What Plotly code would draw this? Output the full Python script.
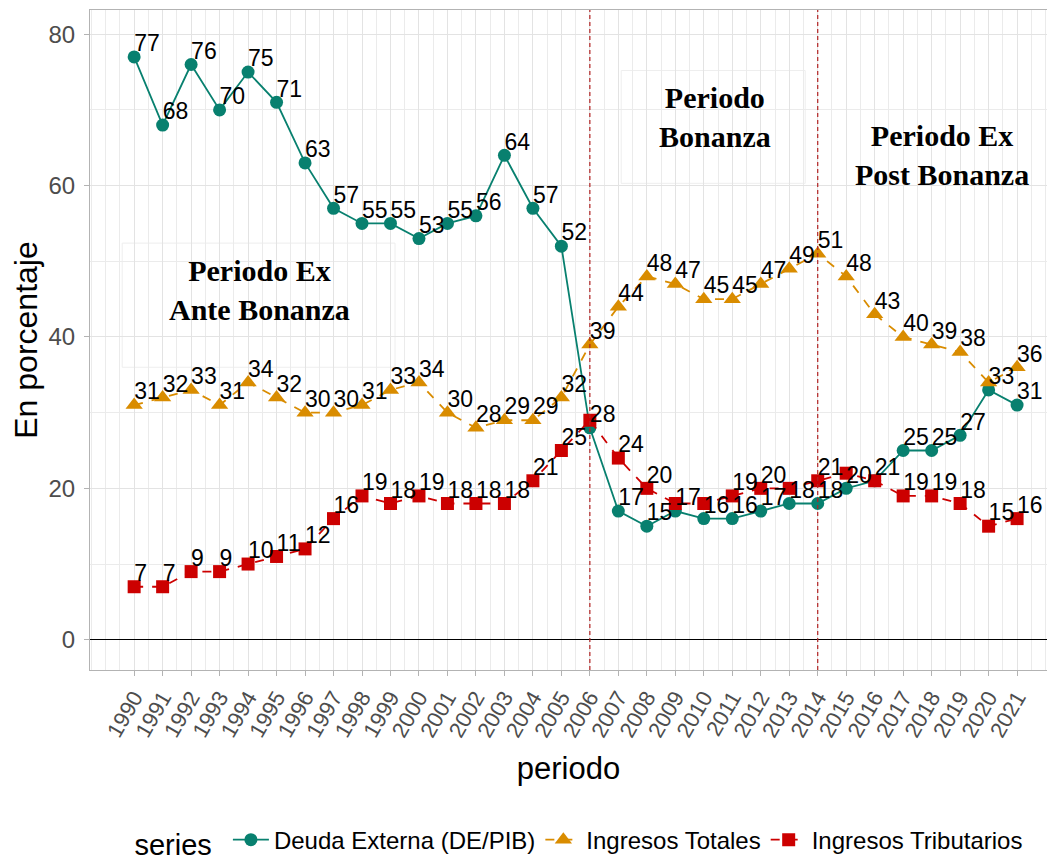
import numpy as np
import plotly.graph_objects as go

years = list(range(1990, 2022))
deuda_externa = [77, 68, 76, 70, 75, 71, 63, 57, 55, 55, 53, 55, 56, 64, 57, 52,
                 28, 17, 15, 17, 16, 16, 17, 18, 18, 20, 21, 25, 25, 27, 33, 31]
ingresos_totales = [31, 32, 33, 31, 34, 32, 30, 30, 31, 33, 34, 30, 28, 29, 29, 32,
                    39, 44, 48, 47, 45, 45, 47, 49, 51, 48, 43, 40, 39, 38, 34, 36]
ingresos_tributarios = [7, 7, 9, 9, 10, 11, 12, 16, 19, 18, 19, 18, 18, 18, 21, 25,
                        29, 24, 20, 18, 18, 19, 20, 20, 21, 22, 21, 19, 19, 18, 15, 16]

# labels hidden in the original because they overlapped (check_overlap)
hidden_deuda = []
hidden_totales = [2020]
hidden_tributarios = [2006, 2009, 2010, 2013, 2015, 2016]

period_breaks = [2006, 2014]

series_names = ["Deuda Externa (DE/PIB)", "Ingresos Totales", "Ingresos Tributarios"]
colors = ["#08806F", "#D98C00", "#CC0000"]
symbols = ["circle", "triangle-up", "square"]
dashes = ["solid", "dash", "dash"]
marker_sizes = [13, 15, 13]


def labels(vals, hidden):
    return ["" if y in hidden else f"{v:g}" for y, v in zip(years, vals)]


fig = go.Figure()
all_vals = [deuda_externa, ingresos_totales, ingresos_tributarios]
all_hidden = [hidden_deuda, hidden_totales, hidden_tributarios]
for name, vals, col, sym, dash, ms in zip(series_names, all_vals, colors, symbols,
                                          dashes, marker_sizes):
    fig.add_trace(go.Scatter(
        x=years, y=vals, name=name,
        mode="lines+markers",
        line=dict(color=col, width=1.8, dash=dash),
        marker=dict(color=col, symbol=sym, size=ms),
        cliponaxis=False,
    ))
for vals, hid in zip(all_vals, all_hidden):
    fig.add_trace(go.Scatter(
        x=years, y=vals, mode="text", showlegend=False, hoverinfo="skip",
        text=labels(vals, hid), textposition="top right",
        textfont=dict(family="Arial, Liberation Sans", size=23, color="black"),
        cliponaxis=False,
    ))

for xb in period_breaks:
    fig.add_vline(x=xb, line=dict(color="#B22222", width=1.2, dash="4px,3px"))

# label boxes
fig.add_shape(type="rect", x0=1989.58, x1=1999.16, y0=36.0, y1=52.4,
              line=dict(color="#EEEEEE", width=1), fillcolor="rgba(255,255,255,0.6)",
              layer="below")
fig.add_shape(type="rect", x0=2007.1, x1=2013.56, y0=60.3, y1=75.2,
              line=dict(color="#EEEEEE", width=1), fillcolor="rgba(255,255,255,0.6)",
              layer="below")

ann_font = dict(family="Liberation Serif, Times New Roman", size=30, color="black")
fig.add_annotation(x=1994.39, y=46.2, text="<b>Periodo Ex<br>Ante Bonanza</b>",
                   showarrow=False, font=ann_font)
fig.add_annotation(x=2010.4, y=69.0, text="<b>Periodo<br>Bonanza</b>",
                   showarrow=False, font=ann_font)
fig.add_annotation(x=2018.37, y=64.0, text="<b>Periodo Ex<br>Post Bonanza</b>",
                   showarrow=False, font=ann_font)

minor_x = list(np.arange(1988.5, 2022.5, 0.5))

fig.update_layout(
    width=1047, height=851,
    margin=dict(l=82, r=8, t=2, b=189, autoexpand=False),
    paper_bgcolor="white", plot_bgcolor="white",
    font=dict(family="Arial, Liberation Sans", color="black"),
    showlegend=True,
    legend=dict(orientation="h", x=0.512, xanchor="center", y=-0.26, yanchor="middle",
                title=dict(text="series ", font=dict(size=29)),
                font=dict(size=24), itemwidth=36),
    xaxis=dict(
        range=[1988.45, 2022.05], automargin=False,
        tickmode="array", tickvals=years, ticktext=[str(y) for y in years],
        tickangle=-60, tickfont=dict(size=22, color="#4D4D4D"),
        ticks="outside", ticklen=5, tickcolor="#B3B3B3",
        showgrid=True, gridcolor="#E3E3E3", gridwidth=1,
        minor=dict(tickvals=minor_x, showgrid=True, gridcolor="#EBEBEB", gridwidth=1),
        showline=True, linecolor="#B3B3B3", linewidth=1, mirror=True,
        zeroline=False,
        title=dict(text="periodo", font=dict(size=31), standoff=16),
    ),
    yaxis=dict(
        range=[-4, 83.2], automargin=False,
        tickmode="array", tickvals=[0, 20, 40, 60, 80],
        tickfont=dict(size=24, color="#4D4D4D"),
        ticks="outside", ticklen=5, tickcolor="#B3B3B3", ticklabelstandoff=4,
        showgrid=True, gridcolor="#E3E3E3", gridwidth=1,
        minor=dict(tickvals=[10, 30, 50, 70], showgrid=True, gridcolor="#EBEBEB"),
        showline=True, linecolor="#B3B3B3", linewidth=1, mirror=True,
        zeroline=True, zerolinecolor="black", zerolinewidth=1,
        title=dict(text="En porcentaje", font=dict(size=32), standoff=6),
    ),
)

fig.write_html("out.html")
